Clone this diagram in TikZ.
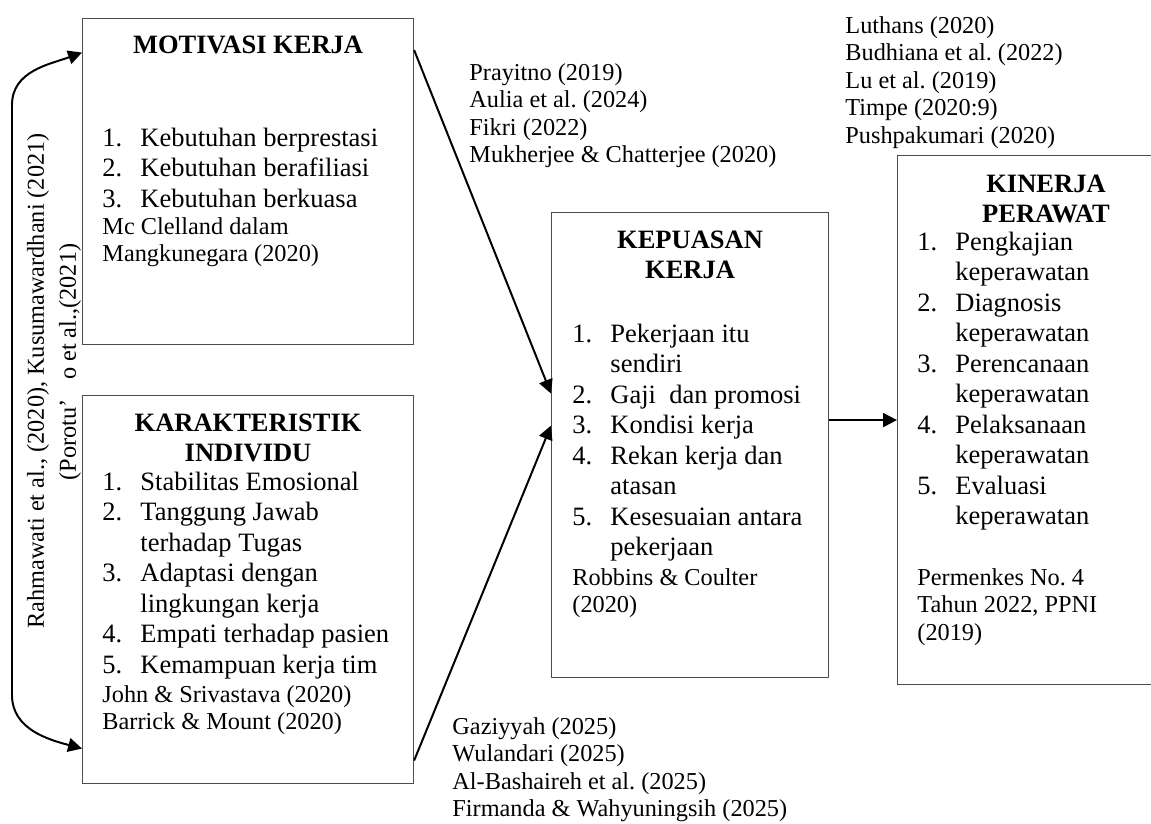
\documentclass[tikz,border=0pt]{standalone}
\usepackage{fontspec}
\setmainfont{Liberation Serif}
\usepackage{tikz}
\usetikzlibrary{arrows.meta}
\frenchspacing
\newlength\pxl
\setlength\pxl{0.4528pt}
\newcommand\li[2]{\makebox[38\pxl][l]{#1}#2}
\newcommand\lc[1]{\hspace*{38\pxl}#1}
\newcommand\ftop{\rule{0pt}{9pt}}

\begin{document}
\begin{tikzpicture}[x=\pxl,y=-\pxl,>={Triangle[length=6.3pt,width=6.3pt]},
  bx/.style={draw=black!70,line width=0.5pt,anchor=north west,inner sep=0},
  hd/.style={font=\fontsize{12}{13.6}\selectfont\bfseries,align=center,anchor=north,inner sep=0},
  ls/.style={font=\fontsize{12}{13.8}\selectfont,align=left,anchor=north west,inner sep=0},
  ct/.style={font=\fontsize{11}{12.45}\selectfont,align=left,anchor=north west,inner sep=0},
  ar/.style={line width=0.9pt,->}]
  \useasboundingbox (0,0) rectangle (1151,823);
  \clip (0,0) rectangle (1151,823);

  % boxes
  \node[bx,minimum width=331\pxl,minimum height=326\pxl] (mot) at (82,18) {};
  \node[bx,minimum width=331\pxl,minimum height=388\pxl] (kar) at (82,395) {};
  \node[bx,minimum width=277\pxl,minimum height=465\pxl] (kep) at (551,212) {};
  \node[bx,minimum width=298\pxl,minimum height=529\pxl] (kin) at (897,155) {};

  % motivasi
  \node[hd] (mothd) at ([yshift=-15\pxl]mot.north) {\ftop MOTIVASI KERJA};
  \node[ls] (motls) at (102,126) {\ftop\li{1.}{Kebutuhan berprestasi}\\
    \li{2.}{Kebutuhan berafiliasi}\\ \li{3.}{Kebutuhan berkuasa}};
  \node[ct] (motct) at (102,214) {\ftop Mc Clelland dalam\\Mangkunegara (2020)};

  % karakteristik
  \node[hd] (karhd) at ([yshift=-16\pxl]kar.north) {\ftop KARAKTERISTIK\\INDIVIDU};
  \node[ls] (karls) at (102,470) {\ftop\li{1.}{Stabilitas Emosional}\\
    \li{2.}{Tanggung Jawab}\\ \lc{terhadap Tugas}\\
    \li{3.}{Adaptasi dengan}\\ \lc{lingkungan kerja}\\
    \li{4.}{Empati terhadap pasien}\\ \li{5.}{Kemampuan kerja tim}};
  \node[ct] (karct) at (102,682) {\ftop John \& Srivastava (2020)\\Barrick \& Mount (2020)};

  % kepuasan
  \node[hd] (kephd) at ([yshift=-16\pxl]kep.north) {\ftop KEPUASAN\\KERJA};
  \node[ls] (kepls) at (572,322) {\ftop\li{1.}{Pekerjaan itu}\\ \lc{sendiri}\\
    \li{2.}{Gaji\ \ dan promosi}\\ \li{3.}{Kondisi kerja}\\
    \li{4.}{Rekan kerja dan}\\ \lc{atasan}\\
    \li{5.}{Kesesuaian antara}\\ \lc{pekerjaan}};
  \node[ct] (kepct) at (572,565) {\ftop Robbins \& Coulter\\(2020)};

  % kinerja
  \node[hd] (kinhd) at (1046,172) {\ftop KINERJA\\PERAWAT};
  \node[ls] (kinls) at (917,230) {\ftop\li{1.}{Pengkajian}\\ \lc{keperawatan}\\
    \li{2.}{Diagnosis}\\ \lc{keperawatan}\\
    \li{3.}{Perencanaan}\\ \lc{keperawatan}\\
    \li{4.}{Pelaksanaan}\\ \lc{keperawatan}\\
    \li{5.}{Evaluasi}\\ \lc{keperawatan}};
  \node[ct] (kinct) at (917,565) {\ftop Permenkes No. 4\\Tahun 2022, PPNI\\(2019)};

  % references beside the arrows
  \node[ct] (pray) at (469,60) {\ftop Prayitno (2019)\\Aulia et al. (2024)\\Fikri (2022)\\Mukherjee \& Chatterjee (2020)};
  \node[ct] (luth) at (845,13) {\ftop Luthans (2020)\\Budhiana et al. (2022)\\Lu et al. (2019)\\Timpe (2020:9)\\Pushpakumari (2020)};
  \node[ct] (gaz) at (452,714) {\ftop Gaziyyah (2025)\\Wulandari (2025)\\Al-Bashaireh et al. (2025)\\Firmanda \& Wahyuningsih (2025)};
  \node[font=\fontsize{11}{14.5}\selectfont,align=center,rotate=90,inner sep=0] (rahm) at (54,381)
    {Rahmawati et al., (2020), Kusumawardhani (2021)\\\hspace*{38\pxl}(Porotu’\hspace{0.8em}o et al.,(2021)};

  % connectors
  \coordinate (lt) at (12,105);
  \coordinate (lb) at (12,695);
  \draw[ar,<->] ([yshift=129\pxl]mot.west) to[out=200,in=90] (lt) -- (lb) to[out=-90,in=165] ([yshift=-159\pxl]kar.west);
  \draw[ar] ([yshift=-32\pxl]mot.north east) -- ([yshift=51.5\pxl]kep.west);
  \draw[ar] ([yshift=-171\pxl]kar.east) -- ([yshift=19.5\pxl]kep.west);
  \draw[ar] (kep.east |- kin.west) -- (kin.west);
\end{tikzpicture}
\end{document}
